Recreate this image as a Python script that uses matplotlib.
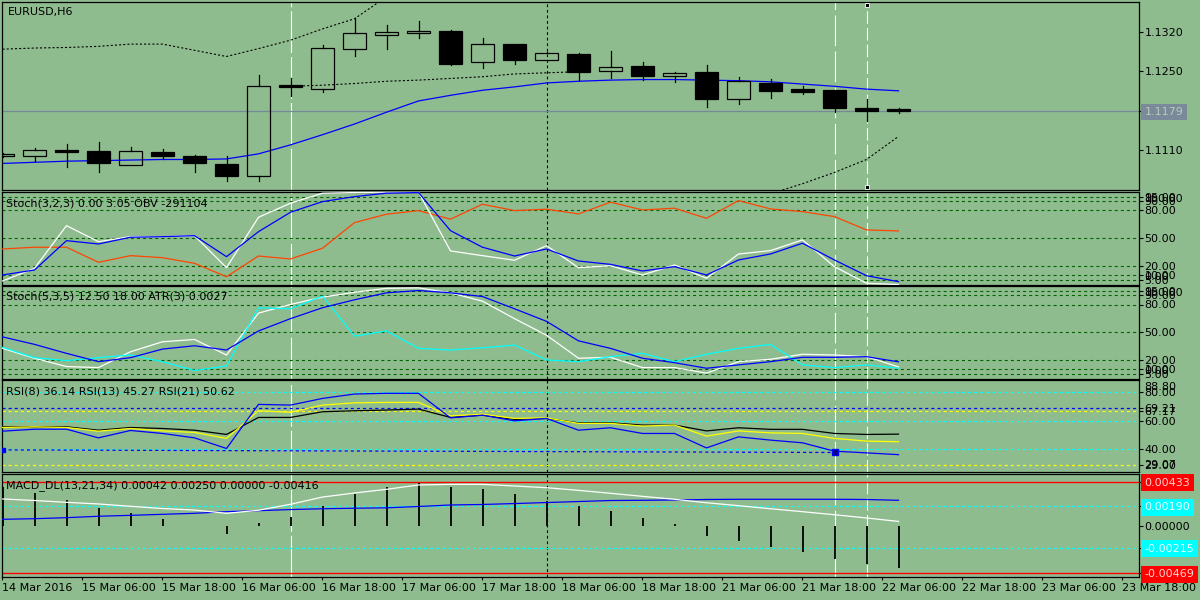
import matplotlib
matplotlib.use('Agg')
import matplotlib.pyplot as plt
from matplotlib.patches import Rectangle

plt.rcParams['font.family'] = 'DejaVu Sans'
plt.rcParams['lines.scale_dashes'] = False

BG = '#8fbc8f'
W, H = 1200, 600

# ---- EURUSD H6 bars (index 0..28) ----
opens = [1.1099, 1.1100, 1.1109, 1.1108, 1.1084, 1.1106, 1.1099, 1.1085, 1.1063, 1.1225,
         1.1219, 1.1289, 1.1315, 1.1317, 1.1321, 1.1266, 1.1298, 1.1270, 1.1280, 1.1250,
         1.1259, 1.1241, 1.1249, 1.1200, 1.1229, 1.1218, 1.1216, 1.1184, 1.1183]
highs = [1.1104, 1.1113, 1.1120, 1.1124, 1.1115, 1.1112, 1.1101, 1.1099, 1.1243, 1.1238,
         1.1296, 1.1344, 1.1332, 1.1339, 1.1323, 1.1309, 1.1299, 1.1284, 1.1283, 1.1286,
         1.1266, 1.1249, 1.1261, 1.1239, 1.1236, 1.1224, 1.1216, 1.1200, 1.1184]
lows = [1.1097, 1.1090, 1.1080, 1.1070, 1.1084, 1.1093, 1.1071, 1.1055, 1.1055, 1.1205,
        1.1213, 1.1276, 1.1290, 1.1308, 1.1261, 1.1256, 1.1263, 1.1270, 1.1234, 1.1238,
        1.1235, 1.1230, 1.1187, 1.1192, 1.1203, 1.1209, 1.1178, 1.1162, 1.1176]
closes = [1.1103, 1.1109, 1.1107, 1.1086, 1.1108, 1.1100, 1.1086, 1.1063, 1.1223, 1.1221,
          1.1291, 1.1317, 1.1319, 1.1322, 1.1263, 1.1298, 1.1270, 1.1282, 1.1249, 1.1257,
          1.1242, 1.1247, 1.1200, 1.1232, 1.1215, 1.1213, 1.1185, 1.1180, 1.1179]
ma_line = [1.1086, 1.1088, 1.1090, 1.1091, 1.1092, 1.1093, 1.1093, 1.1094, 1.1103, 1.1119,
           1.1137, 1.1156, 1.1177, 1.1197, 1.1207, 1.1216, 1.1222, 1.1229, 1.1232, 1.1234,
           1.1235, 1.1235, 1.1234, 1.1233, 1.1231, 1.1227, 1.1223, 1.1218, 1.1215]
band_up = [1.1289, 1.1291, 1.1292, 1.1294, 1.1298, 1.1298, 1.1287, 1.1276, 1.1290, 1.1305,
           1.1325, 1.1343, 1.1382]                       # bars 0..12
band_mid = [1.1223, 1.1225, 1.1228, 1.1232, 1.1234, 1.1237, 1.1240, 1.1245, 1.1247, 1.1249]  # bars 9..18
band_low = [1.1032, 1.1050, 1.1070, 1.1093, 1.1134]     # bars 24..28
last_price = 1.1179

# ---- Stoch(3,2,3) + OBV ----
st1_main = [3.8, 17.5, 63.6, 46.3, 51.7, 51.7, 52.8, 18.2, 72.7, 87.9, 98.7, 99.4, 99.8, 99.8,
            36.3, 31.2, 26.2, 42.0, 18.2, 20.3, 10.3, 21.1, 6.7, 33.0, 36.6, 48.2, 19.3, 1.3, 0.0]
st1_sig = [10.3, 15.7, 47.4, 43.8, 51.1, 51.7, 52.8, 30.1, 57.1, 78.1, 89.6, 95.0, 98.7, 99.4,
           58.2, 40.3, 30.8, 38.4, 25.4, 21.8, 14.6, 19.3, 10.3, 26.5, 33.0, 44.6, 26.5, 9.5, 3.05]
obv = [38.4, 40.3, 40.3, 24.0, 31.2, 29.0, 22.9, 8.4, 30.8, 27.6, 39.2, 66.9, 76.0, 79.9,
       70.6, 86.8, 79.9, 81.4, 76.3, 89.0, 80.6, 82.5, 71.6, 90.7, 81.7, 78.8, 73.4, 59.0, 57.9]

# ---- Stoch(5,3,5) + ATR ----
st2_main = [32.6, 21.9, 12.9, 11.8, 28.9, 39.7, 42.2, 25.4, 70.7, 80.1, 87.9, 93.2, 97.5, 98.0,
            92.6, 83.6, 64.7, 46.8, 21.9, 22.9, 11.8, 11.8, 5.8, 18.2, 20.8, 26.2, 25.4, 23.6, 12.5]
st2_sig = [45.0, 36.9, 27.2, 18.2, 22.5, 31.8, 35.4, 30.8, 51.4, 64.7, 76.5, 85.1, 92.6, 95.1,
           92.6, 88.6, 75.4, 61.8, 40.7, 32.6, 21.9, 17.1, 11.1, 14.7, 18.2, 22.9, 22.9, 23.6, 18.0]
atr = [33.7, 22.5, 19.3, 22.5, 25.4, 18.2, 8.6, 13.6, 76.5, 75.4, 89.0, 45.8, 51.4, 32.6,
       30.8, 33.2, 36.1, 20.0, 18.2, 23.6, 27.2, 18.2, 26.2, 32.6, 36.9, 14.7, 11.8, 14.7, 11.1]
stoch_levels = [95, 90, 80, 50, 20, 10, 5]

# ---- RSI ----
rsi8 = [52.7, 54.1, 54.1, 48.0, 53.2, 51.1, 48.0, 40.5, 71.6, 71.1, 75.8, 78.9, 79.4, 79.4,
        62.1, 64.0, 60.0, 61.7, 53.4, 55.1, 51.1, 51.1, 40.9, 48.7, 46.4, 44.5, 38.6, 37.4, 36.14]
rsi13 = [55.3, 55.8, 55.3, 52.7, 54.6, 52.9, 51.8, 47.6, 67.1, 66.0, 71.1, 72.7, 73.0, 73.0,
         63.5, 64.7, 61.7, 62.1, 58.2, 58.2, 56.3, 57.0, 49.2, 52.9, 51.5, 51.1, 47.6, 45.7, 45.27]
rsi21 = [55.8, 55.8, 55.8, 53.4, 55.3, 54.6, 53.4, 50.4, 62.4, 62.4, 66.4, 67.1, 67.6, 68.3,
         62.4, 64.0, 61.0, 61.7, 58.6, 58.6, 57.0, 57.0, 52.9, 55.1, 54.0, 54.0, 51.1, 50.4, 50.62]
rsi_trend = [39.5, 37.67]   # trendline from bar 0 to bar 26

# ---- MACD_DL ----
macd_hist = [0.00380, 0.00319, 0.00253, 0.00177, 0.00122, 0.00066, -0.00003, -0.00082, 0.00030,
             0.00089, 0.00194, 0.00312, 0.00381, 0.00423, 0.00381, 0.00361, 0.00315, 0.00243,
             0.00194, 0.00145, 0.00079, 0.00017, -0.00101, -0.00148, -0.00210, -0.00259,
             -0.00325, -0.00374, -0.00416]
macd_white = [0.00263, 0.00248, 0.00230, 0.00214, 0.00191, 0.00169, 0.00154, 0.00122, 0.00152,
              0.00211, 0.00282, 0.00322, 0.00358, 0.00401, 0.00407, 0.00407, 0.00391, 0.00374,
              0.00348, 0.00319, 0.00289, 0.00260, 0.00226, 0.00197, 0.00167, 0.00138, 0.00108,
              0.00076, 0.00042]
macd_blue = [0.00063, 0.00069, 0.00079, 0.00093, 0.00102, 0.00112, 0.00122, 0.00138, 0.00148,
             0.00159, 0.00167, 0.00172, 0.00176, 0.00189, 0.00204, 0.00209, 0.00218, 0.00228,
             0.00238, 0.00248, 0.00250, 0.00253, 0.00258, 0.00260, 0.00260, 0.00260, 0.00260,
             0.00258, 0.00250]

time_labels = ['14 Mar 2016', '15 Mar 06:00', '15 Mar 18:00', '16 Mar 06:00', '16 Mar 18:00',
               '17 Mar 06:00', '17 Mar 18:00', '18 Mar 06:00', '18 Mar 18:00', '21 Mar 06:00',
               '21 Mar 18:00', '22 Mar 06:00', '22 Mar 18:00', '23 Mar 06:00', '23 Mar 18:00']
marked_bars = [9, 17, 26, 27]

bars = list(range(len(opens)))

fig = plt.figure(figsize=(12, 6), dpi=100, facecolor=BG)

X0, X1 = 2, 1139
XMIN = -0.5 / 32
XMAX = (X1 - 2.5) / 32
FS = 8


def panel(top, bottom, ylim):
    ax = fig.add_axes([X0 / W, 1 - bottom / H, (X1 - X0) / W, (bottom - top) / H])
    ax.set_facecolor(BG)
    ax.set_xlim(XMIN, XMAX)
    ax.set_ylim(*ylim)
    for s in ax.spines.values():
        s.set_color('black')
        s.set_linewidth(0.9)
    ax.yaxis.tick_right()
    ax.tick_params(axis='y', direction='out', length=3, width=0.8, pad=1,
                   labelsize=FS, colors='black')
    ax.tick_params(axis='x', bottom=False, labelbottom=False)
    # vertical marker lines through every window
    ax.axvline(marked_bars[0], color='white', lw=0.8, ls=(0, (30, 3)), zorder=1)
    ax.axvline(marked_bars[1], color='black', lw=0.8, ls=(0, (2, 2)), zorder=1)
    ax.axvline(marked_bars[2], color='white', lw=0.8, ls=(0, (22, 4)), zorder=1)
    ax.axvline(marked_bars[3], color='white', lw=0.8, ls=(0, (9, 3)), zorder=1)
    return ax


def title(px, py, s):
    fig.text(px / W, 1 - py / H, s, fontsize=FS, ha='left', va='center', color='black')


def side_text(ax, y, s):
    ax.text(1.0048, y, s, transform=ax.get_yaxis_transform(), fontsize=FS,
            ha='left', va='center', color='black', clip_on=False)


# ---------------- main price window ----------------
ax = panel(2, 190, (1.10388, 1.13728))
ax.axhline(last_price, color='#778899', lw=0.9, zorder=1)
ax.plot(bars[:13], band_up, color='black', lw=0.8, ls=(0, (1.5, 1.5)), zorder=2)
ax.plot(bars[9:19], band_mid, color='black', lw=0.8, ls=(0, (1.5, 1.5)), zorder=2)
ax.plot(bars[24:29], band_low, color='black', lw=0.8, ls=(0, (1.5, 1.5)), zorder=2)
ax.plot(bars, ma_line, color='#0000ff', lw=0.9, zorder=2)

bw = 0.69
for i, (o, h, l, c) in enumerate(zip(opens, highs, lows, closes)):
    top, bot = max(o, c), min(o, c)
    ax.plot([i, i], [top, h], color='black', lw=0.9, zorder=3)
    ax.plot([i, i], [l, bot], color='black', lw=0.9, zorder=3)
    ax.add_patch(Rectangle((i - bw / 2, bot), bw, max(top - bot, 0.00004),
                           facecolor='black' if c < o else 'none',
                           edgecolor='black', lw=0.9, zorder=4))

ax.plot([marked_bars[3]] * 2, [1.13669, 1.10436], 's', ms=3, mfc='black', mec='white',
        mew=0.6, ls='none', zorder=6, clip_on=False)

ax.set_yticks([1.1320, 1.1250, 1.1110, last_price])
ax.set_yticklabels(['1.1320', '1.1250', '1.1110', '1.1179'])
lbl = ax.get_yticklabels()[-1]
lbl.set_color('#b8ccb8')
lbl.set_bbox(dict(boxstyle='square,pad=0.3', fc='#7a8a9a', ec='none'))
title(7.5, 12.3, 'EURUSD,H6')

# ---------------- Stoch(3,2,3) + OBV ----------------
ax1 = panel(192, 284.5, (0, 100))
for lv in stoch_levels:
    ax1.axhline(lv, color='#006400', lw=0.8, ls=(0, (2.2, 2.2)), zorder=1)
ax1.plot(bars, obv, color='#ff4500', lw=0.9, zorder=3)
ax1.plot(bars, st1_main, color='white', lw=0.9, zorder=3)
ax1.plot(bars, st1_sig, color='#0000ff', lw=0.9, zorder=4)
ax1.set_yticks(stoch_levels)
ax1.set_yticklabels(['%.2f' % v for v in stoch_levels])
side_text(ax1, 92.5, '100.00')
side_text(ax1, 8.5, '0.00')
title(5.7, 203.3, 'Stoch(3,2,3) 0.00 3.05 OBV -291104')

# ---------------- Stoch(5,3,5) + ATR ----------------
ax2 = panel(286, 378.5, (0, 100))
for lv in stoch_levels:
    ax2.axhline(lv, color='#006400', lw=0.8, ls=(0, (2.2, 2.2)), zorder=1)
ax2.plot(bars, st2_main, color='white', lw=0.9, zorder=3)
ax2.plot(bars, st2_sig, color='#0000ff', lw=0.9, zorder=4)
ax2.plot(bars, atr, color='#00ffff', lw=0.9, zorder=3)
ax2.set_yticks(stoch_levels)
ax2.set_yticklabels(['%.2f' % v for v in stoch_levels])
side_text(ax2, 92.5, '100.00')
side_text(ax2, 8.5, '0.00')
title(5.7, 296.7, 'Stoch(5,3,5) 12.50 18.00 ATR(3) 0.0027')

# ---------------- RSI ----------------
ax3 = panel(380, 472.3, (23.7, 88.8))
for lv, col in [(80, '#00ffff'), (69.21, '#0000ff'), (67.17, '#ffff00'), (60, '#00ffff'),
                (40, '#00ffff'), (29, '#ffff00')]:
    ax3.axhline(lv, color=col, lw=0.9, ls=(0, (2.2, 2.2)), zorder=1)
ax3.plot([0, 26], rsi_trend, color='#0000ff', lw=0.9, ls=(0, (2.2, 2.2)), zorder=2)
ax3.plot([0], [rsi_trend[0]], 's', ms=3, color='#0000ff', zorder=5)
ax3.plot([26], [rsi_trend[1]], 's', ms=4, mfc='#000080', mec='#0000ff', zorder=5)
ax3.plot(bars, rsi21, color='black', lw=0.9, zorder=3)
ax3.plot(bars, rsi13, color='#ffff00', lw=0.9, zorder=3)
ax3.plot(bars, rsi8, color='#0000ff', lw=0.9, zorder=4)
ax3.set_yticks([80, 69.21, 67.17, 60, 40, 29])
ax3.set_yticklabels(['80.00', '69.21', '67.17', '60.00', '40.00', '29.00'])
side_text(ax3, 84.2, '88.80')
side_text(ax3, 29, '29.07')
title(5.7, 391, 'RSI(8) 36.14 RSI(13) 45.27 RSI(21) 50.62')

# ---------------- MACD_DL ----------------
ax4 = panel(474.3, 577, (-0.00505, 0.00506))
ax4.axhline(0.00433, color='red', lw=1.0, zorder=1)
ax4.axhline(-0.00469, color='red', lw=1.0, zorder=1)
ax4.axhline(0.00190, color='#00ffff', lw=0.9, ls=(0, (2.2, 2.2)), zorder=1)
ax4.axhline(-0.00215, color='#00ffff', lw=0.9, ls=(0, (2.2, 2.2)), zorder=1)
ax4.vlines(bars, 0, macd_hist, color='black', lw=1.3, zorder=2)
ax4.plot(bars, macd_blue, color='#0000ff', lw=0.9, zorder=3)
ax4.plot(bars, macd_white, color='white', lw=0.9, zorder=3)
macd_ticks = [0.00433, 0.00190, 0.0, -0.00215, -0.00469]
ax4.set_yticks(macd_ticks)
ax4.set_yticklabels(['0.00433', '0.00190', '0.00000', '-0.00215', '-0.00469'])
for lbl, v in zip(ax4.get_yticklabels(), macd_ticks):
    if v in (0.00433, -0.00469):
        lbl.set_color('#ffd0d0')
        lbl.set_bbox(dict(boxstyle='square,pad=0.3', fc='red', ec='none'))
    elif v != 0.0:
        lbl.set_color('#e8ffff')
        lbl.set_bbox(dict(boxstyle='square,pad=0.3', fc='#00ffff', ec='none'))
title(5.7, 485.7, 'MACD_DL(13,21,34) 0.00042 0.00250 0.00000 -0.00416')

tick_pos = [(2 + 80 * n - 2.5) / 32 for n in range(len(time_labels))]
ax4.tick_params(axis='x', bottom=True, labelbottom=True, direction='out', length=2.5,
                width=0.8, pad=1.5, labelsize=FS, colors='black')
ax4.set_xticks(tick_pos)
ax4.set_xticklabels(time_labels)
for lbl in ax4.get_xticklabels():
    lbl.set_ha('left')

fig.savefig('out.png', dpi=100, facecolor=BG)
